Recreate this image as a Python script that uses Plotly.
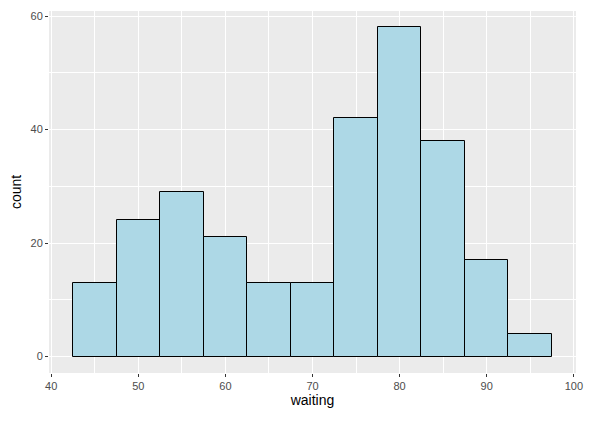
import plotly.graph_objects as go

bin_centers = [45, 50, 55, 60, 65, 70, 75, 80, 85, 90, 95]
counts = [13, 24, 29, 21, 13, 13, 42, 58, 38, 17, 4]
x_ticks = [40, 50, 60, 70, 80, 90, 100]
y_ticks = [0, 20, 40, 60]

fig = go.Figure(go.Bar(
    x=bin_centers, y=counts, width=5,
    marker=dict(color="#ADD8E6", line=dict(color="black", width=1)),
))

tickfont = dict(family="Liberation Sans, Arial", size=11, color="#4D4D4D")
fig.update_layout(
    width=604, height=416,
    margin=dict(l=41, r=36, t=3, b=51),
    paper_bgcolor="white", plot_bgcolor="#EBEBEB",
    showlegend=False, bargap=0,
    font=dict(family="Liberation Sans, Arial", color="black"),
    xaxis=dict(
        range=[39.75, 100.25], tickvals=x_ticks, ticktext=[str(v) for v in x_ticks],
        showgrid=True, gridcolor="white", gridwidth=1.1, zeroline=False,
        ticks="outside", ticklen=3, tickcolor="#333333", tickwidth=1,
        tickfont=tickfont, automargin=False,
        minor=dict(tickvals=[45, 55, 65, 75, 85, 95], showgrid=True, gridcolor="white", gridwidth=0.5, ticks=""),
        title=dict(text="waiting", font=dict(size=14, color="black"), standoff=2),
    ),
    yaxis=dict(
        range=[-2.9, 60.9], tickvals=y_ticks, ticktext=[str(v) for v in y_ticks],
        showgrid=True, gridcolor="white", gridwidth=1.1, zeroline=False,
        ticks="outside", ticklen=3, tickcolor="#333333", tickwidth=1,
        tickfont=tickfont, automargin=False,
        minor=dict(tickvals=[10, 30, 50], showgrid=True, gridcolor="white", gridwidth=0.5, ticks=""),
        title=dict(text="count", font=dict(size=14, color="black"), standoff=6),
    ),
)

fig.write_html("out.html")
